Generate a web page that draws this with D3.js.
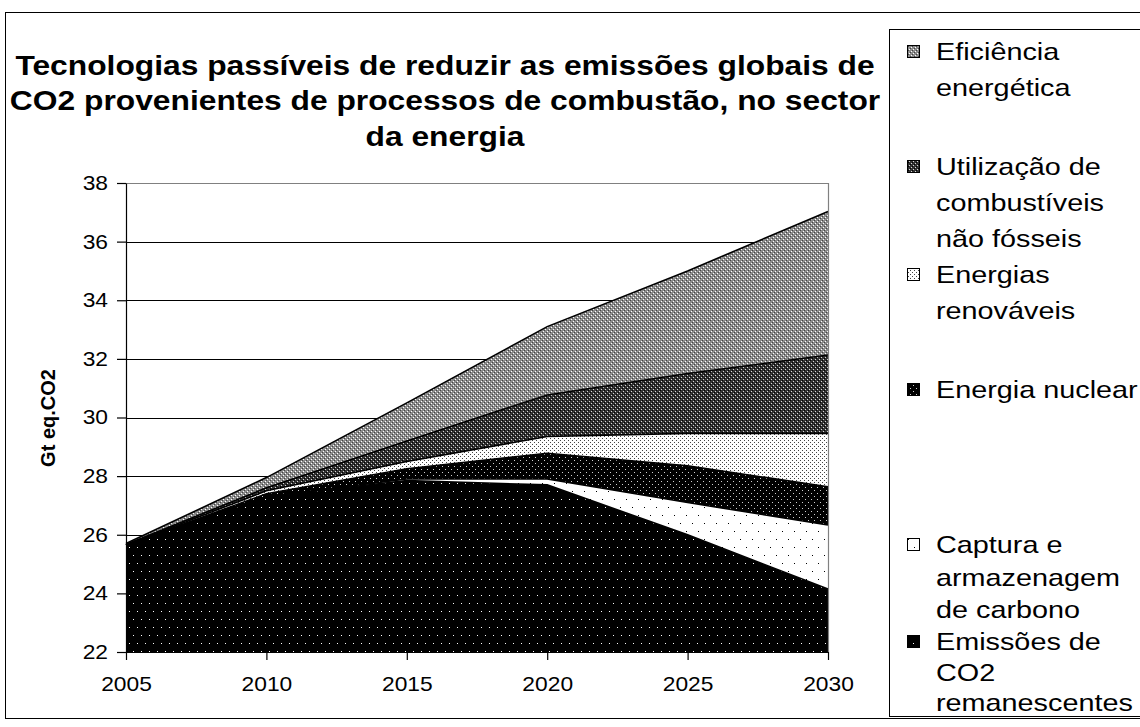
<!DOCTYPE html>
<html>
<head>
<meta charset="utf-8">
<script src="https://cdn.jsdelivr.net/npm/d3@7"></script>
<style>
  body { margin: 0; background: #fff; }
  svg text { font-family: "Liberation Sans", Arial, sans-serif; fill: #000; }
</style>
</head>
<body>
<svg id="chart" width="1140" height="727"></svg>
<script>
// data (Gt eq.CO2), stacked bottom -> top
const years = [2005, 2010, 2015, 2020, 2025, 2030];
const emissoes     = [25.65, 27.3, 27.85, 27.7, 26.0, 24.15];
const captura      = [0, 0, 0.05, 0.2, 1.1, 2.18];
const nuclear      = [0, 0.1, 0.35, 0.88, 1.25, 1.31];
const renovaveis   = [0, 0.1, 0.25, 0.57, 1.11, 1.82];
const combustiveis = [0.02, 0.1, 0.7, 1.42, 2.04, 2.67];
const eficiencia   = [0.03, 0.35, 1.3, 2.33, 3.5, 4.9];

const seriesKeys = ["emissoes", "captura", "nuclear", "renovaveis", "combustiveis", "eficiencia"];
const seriesLabels = {
  eficiencia: ["Eficiência", "energética"],
  combustiveis: ["Utilização de", "combustíveis", "não fósseis"],
  renovaveis: ["Energias", "renováveis"],
  nuclear: ["Energia nuclear"],
  captura: ["Captura e", "armazenagem", "de carbono"],
  emissoes: ["Emissões de", "CO2", "remanescentes"]
};
const yTicks = [22, 24, 26, 28, 30, 32, 34, 36, 38];
const titleLines = [
  "Tecnologias passíveis de reduzir as emissões globais de",
  "CO2 provenientes de processos de combustão, no sector",
  "da energia"
];
const yTitle = "Gt eq.CO2";

// the original picture is stretched sideways a bit
const SX = 1.14;
const SX_TITLE = 1.135;
const SX_LEG = 1.2;

const svg = d3.select("#chart");
const rows = years.map((yr, i) => ({
  year: yr,
  emissoes: emissoes[i], captura: captura[i], nuclear: nuclear[i],
  renovaveis: renovaveis[i], combustiveis: combustiveis[i], eficiencia: eficiencia[i]
}));

const x = d3.scaleLinear().domain([2005, 2030]).range([126, 828]);
const y = d3.scaleLinear().domain([22, 38]).range([652, 183]);
const yc = y.copy().clamp(true); // bottom layer starts at 0, cut at axis

// patterns (Excel style b/w fills)
const defs = svg.append("defs");
function makePattern(id, w, h, bg, dots, dotColor) {
  const p = defs.append("pattern").attr("id", id)
    .attr("patternUnits", "userSpaceOnUse").attr("width", w).attr("height", h);
  p.append("rect").attr("width", w).attr("height", h).attr("fill", bg);
  dots.forEach(d => {
    p.append("rect").attr("x", d[0]).attr("y", d[1]).attr("width", 1).attr("height", 1)
      .attr("fill", d[2] || dotColor);
  });
}
makePattern("p-emissoes", 8, 16, "#000", [[1, 3], [5, 11]], "#fff");
makePattern("p-captura", 12, 16, "#fff", [[2, 3], [8, 11]], "#000");
makePattern("p-nuclear", 6, 6, "#000", [[1, 1], [4, 4]], "#d0d0d0");
makePattern("p-renovaveis", 4, 4, "#fff", [[0, 0], [2, 2]], "#444");
makePattern("p-combustiveis", 4, 4, "#333", [[1, 1, "#d8d8d8"], [3, 3, "#d8d8d8"], [0, 2, "#000"], [2, 0, "#000"]]);
makePattern("p-eficiencia", 4, 4, "#8c8c8c", [[1, 1, "#fff"], [3, 3, "#fff"], [0, 2, "#444"], [2, 0, "#444"]]);

// outer chart frame
svg.append("rect").attr("x", 5.5).attr("y", 12.5).attr("width", 1200).attr("height", 706)
  .attr("fill", "none").attr("stroke", "#000");

// gridlines
svg.append("g").selectAll("line").data(yTicks.filter(t => t > 22 && t < 38)).join("line")
  .attr("x1", x(2005)).attr("x2", x(2030))
  .attr("y1", d => Math.round(y(d)) + 0.5).attr("y2", d => Math.round(y(d)) + 0.5)
  .attr("stroke", "#000").attr("stroke-width", 1);

// stacked areas
const stack = d3.stack().keys(seriesKeys);
const layers = stack(rows);
const area = d3.area()
  .x(d => x(d.data.year))
  .y0(d => yc(d[0]))
  .y1(d => yc(d[1]));
const topLine = d3.line()
  .x(d => x(d.data.year))
  .y(d => yc(d[1]));

svg.append("g").selectAll("path").data(layers).join("path")
  .attr("d", area)
  .attr("fill", d => `url(#p-${d.key})`);
svg.append("g").selectAll("path").data(layers).join("path")
  .attr("d", topLine)
  .attr("fill", "none").attr("stroke", "#000").attr("stroke-width", 1.6);

// plot area border (top + right, gray)
svg.append("path")
  .attr("d", `M${x(2005)},${Math.round(y(38)) + 0.5}H${x(2030) + 0.5}V${y(22)}`)
  .attr("fill", "none").attr("stroke", "#808080").attr("stroke-width", 1.2);

// axes
const yAxis = svg.append("g").attr("transform", `translate(${x(2005)},0)`)
  .call(d3.axisLeft(y).tickValues(yTicks).tickSize(9).tickSizeOuter(0));
yAxis.selectAll("text")
  .attr("x", -18 / SX)
  .attr("transform", `scale(${SX},1)`)
  .style("font-size", "20px");
yAxis.selectAll("path,line").attr("stroke", "#000").attr("stroke-width", 1.2);

const xAxis = svg.append("g").attr("transform", `translate(0,${y(22)})`)
  .call(d3.axisBottom(x).tickValues(years).tickFormat(d3.format("d")).tickSize(8).tickSizeOuter(0));
xAxis.selectAll(".tick text")
  .attr("y", 25)
  .attr("transform", `scale(${SX},1)`)
  .style("font-size", "20px");
xAxis.selectAll("path,line").attr("stroke", "#000").attr("stroke-width", 1.2);

// y axis title
svg.append("text")
  .attr("transform", `translate(55,418) rotate(-90)`)
  .attr("text-anchor", "middle")
  .style("font-size", "20px").style("font-weight", "bold")
  .text(yTitle);

// chart title
const titleY = [75, 110, 146];
svg.append("g").selectAll("text").data(titleLines).join("text")
  .attr("transform", (d, i) => `translate(445,${titleY[i]}) scale(${SX_TITLE},1)`)
  .attr("text-anchor", "middle")
  .style("font-size", "28px").style("font-weight", "bold")
  .text(d => d);

// legend
const legend = svg.append("g");
legend.append("rect").attr("x", 889.5).attr("y", 29.5).attr("width", 400).attr("height", 687)
  .attr("fill", "#fff").attr("stroke", "#000");

const legendOrder = ["eficiencia", "combustiveis", "renovaveis", "nuclear", "captura", "emissoes"];
const legendBase = {
  eficiencia: [60, 96],
  combustiveis: [175, 211, 247],
  renovaveis: [283, 319],
  nuclear: [398],
  captura: [553, 586, 618],
  emissoes: [650, 681, 711]
};
legendOrder.forEach(key => {
  const base = legendBase[key];
  legend.append("rect")
    .attr("x", 907.5).attr("y", base[0] - 14.5).attr("width", 12).attr("height", 12)
    .attr("fill", `url(#p-${key})`).attr("stroke", "#000");
  seriesLabels[key].forEach((line, i) => {
    legend.append("text")
      .attr("transform", `translate(936,${base[i]}) scale(${SX_LEG},1)`)
      .style("font-size", "24px")
      .text(line);
  });
});
</script>
</body>
</html>
